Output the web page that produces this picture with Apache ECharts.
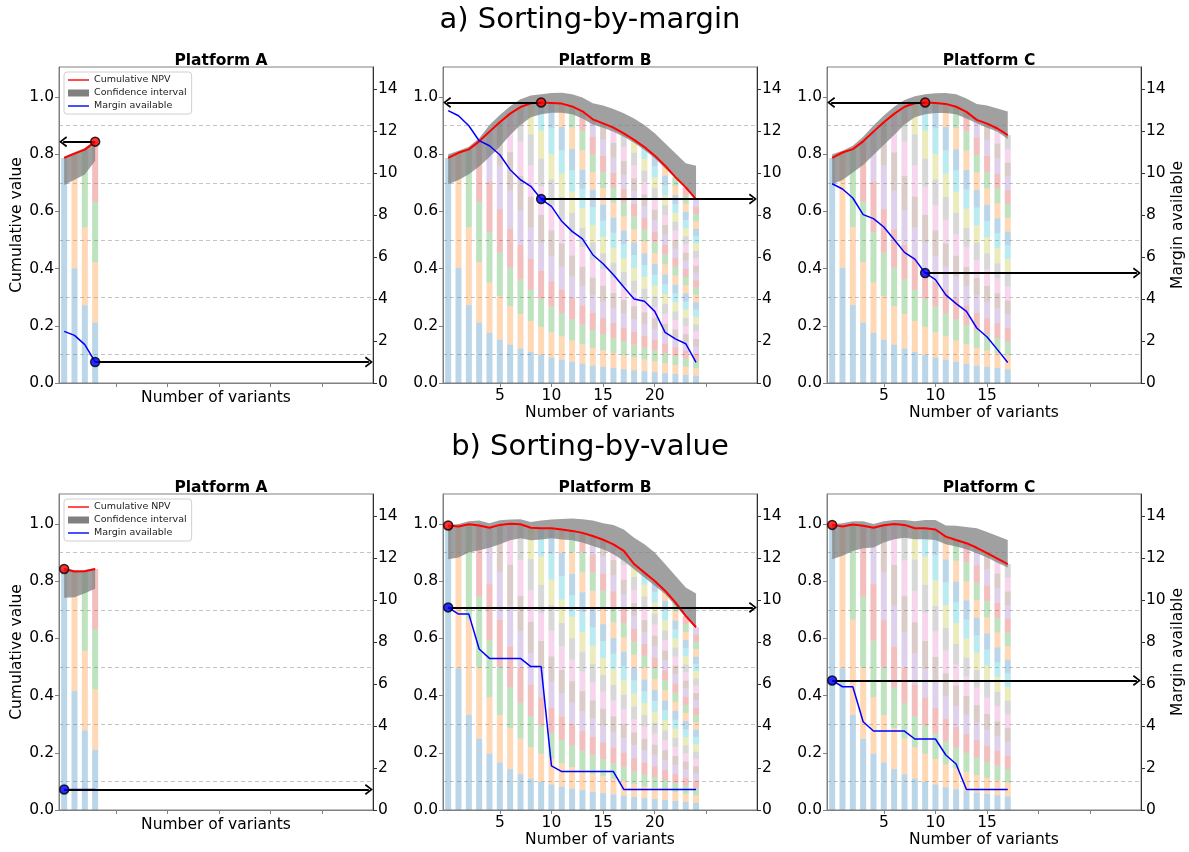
<!DOCTYPE html>
<html>
<head>
<meta charset="utf-8">
<title>Sorting-by-margin / Sorting-by-value</title>
<script src="https://cdn.jsdelivr.net/npm/echarts@6.0.0/dist/echarts.min.js"></script>
<style>
    html, body { margin: 0; padding: 0; background: #fff; }
    #chart { width: 1189px; height: 852px; }
</style>
</head>
<body>
<div id="chart"></div>
<script>
// values
const sortings = ['a) Sorting-by-margin', 'b) Sorting-by-value'];
const platforms = ['Platform A', 'Platform B', 'Platform C'];

const xTicks = [5, 10, 15, 20, 25];
const leftTicks = [0, 0.2, 0.4, 0.6, 0.8, 1.0];
const rightTicks = [0, 2, 4, 6, 8, 10, 12, 14];
const guideLevels = [0.1, 0.3, 0.5, 0.7, 0.9];

// a) sorting by margin
const npvMarginA = [0.787, 0.802, 0.816, 0.844];
const loMarginA = [0.692, 0.711, 0.729, 0.777];
const hiMarginA = [0.792, 0.807, 0.822, 0.846];
const marginMarginA = [2.46, 2.27, 1.83, 1.0];

const npvMarginB = [0.787, 0.805, 0.817, 0.845, 0.879, 0.912, 0.942, 0.965, 0.978, 0.981, 0.979, 0.977, 0.967,
    0.95, 0.922, 0.908, 0.893, 0.873, 0.85, 0.825, 0.795, 0.76, 0.72, 0.684, 0.642];
const loMarginB = [0.695, 0.71, 0.73, 0.757, 0.79, 0.826, 0.867, 0.902, 0.929, 0.94, 0.945, 0.945, 0.94,
    0.925, 0.904, 0.893, 0.879, 0.861, 0.84, 0.815, 0.786, 0.751, 0.716, 0.681, 0.64];
const hiMarginB = [0.80, 0.812, 0.826, 0.856, 0.902, 0.937, 0.968, 0.992, 1.005, 1.01, 1.014, 1.015, 1.01,
    0.998, 0.978, 0.97, 0.958, 0.943, 0.925, 0.902, 0.873, 0.838, 0.803, 0.768, 0.76];
const marginMarginB = [12.97, 12.73, 12.25, 11.54, 11.3, 10.87, 10.16, 9.68, 9.37, 8.76, 8.41, 7.7, 7.22,
    6.86, 6.11, 5.68, 5.16, 4.57, 4.0, 3.89, 3.41, 2.41, 2.1, 1.87, 0.98];

const npvMarginC = [0.787, 0.806, 0.818, 0.845, 0.879, 0.912, 0.941, 0.966, 0.978, 0.981, 0.979, 0.976, 0.966,
    0.948, 0.92, 0.907, 0.89, 0.867];
const loMarginC = [0.695, 0.71, 0.736, 0.762, 0.797, 0.832, 0.867, 0.904, 0.929, 0.94, 0.944, 0.944, 0.94,
    0.925, 0.908, 0.893, 0.879, 0.853];
const hiMarginC = [0.80, 0.812, 0.83, 0.861, 0.9, 0.935, 0.966, 0.99, 1.003, 1.01, 1.013, 1.014, 1.01,
    0.995, 0.976, 0.97, 0.96, 0.949];
const marginMarginC = [9.49, 9.24, 8.81, 8.02, 7.83, 7.43, 6.83, 6.22, 5.9, 5.24, 4.92, 4.2, 3.78,
    3.41, 2.62, 2.19, 1.59, 0.98];

// b) sorting by value
const npvValueA = [0.843, 0.834, 0.835, 0.843];
const loValueA = [0.742, 0.744, 0.758, 0.774];
const hiValueA = [0.846, 0.838, 0.839, 0.846];
const marginValueA = [0.98, 0.98, 0.98, 0.98];

const npvValueB = [0.995, 0.991, 0.999, 0.995, 0.987, 0.997, 1.001, 0.999, 0.987, 0.985, 0.985, 0.981, 0.976,
    0.969, 0.958, 0.945, 0.929, 0.906, 0.86, 0.83, 0.801, 0.767, 0.726, 0.679, 0.639];
const loValueB = [0.877, 0.883, 0.9, 0.908, 0.917, 0.929, 0.943, 0.95, 0.943, 0.946, 0.95, 0.946, 0.943,
    0.935, 0.923, 0.912, 0.894, 0.871, 0.842, 0.813, 0.784, 0.755, 0.714, 0.674, 0.635];
const hiValueB = [0.997, 1.0, 1.01, 1.012, 1.003, 1.013, 1.016, 1.017, 1.007, 1.012, 1.016, 1.018, 1.019,
    1.017, 1.012, 1.003, 0.997, 0.981, 0.952, 0.929, 0.9, 0.86, 0.819, 0.778, 0.757];
const marginValueB = [9.65, 9.33, 9.33, 7.67, 7.22, 7.22, 7.22, 7.22, 6.83, 6.83, 2.1, 1.83, 1.83,
    1.83, 1.83, 1.83, 1.83, 0.98, 0.98, 0.98, 0.98, 0.98, 0.98, 0.98, 0.98];

const npvValueC = [0.997, 0.991, 0.998, 0.994, 0.987, 0.996, 1.0, 0.997, 0.985, 0.985, 0.981, 0.956, 0.944,
    0.933, 0.917, 0.898, 0.879, 0.86];
const loValueC = [0.877, 0.889, 0.906, 0.915, 0.918, 0.935, 0.947, 0.952, 0.947, 0.947, 0.944, 0.929, 0.921,
    0.912, 0.898, 0.883, 0.865, 0.848];
const hiValueC = [1.0, 1.003, 1.01, 1.01, 1.0, 1.01, 1.014, 1.014, 1.01, 1.014, 1.014, 0.995, 0.994,
    0.99, 0.985, 0.972, 0.958, 0.944];
const marginValueC = [6.17, 5.87, 5.87, 4.2, 3.76, 3.76, 3.76, 3.76, 3.38, 3.38, 3.38, 2.62, 2.19,
    0.98, 0.98, 0.98, 0.98, 0.98];

// chosen number of variants (highlighted dot) per panel
const picksMargin = [3, 9, 9];
const picksValue = [0, 0, 0];

// ---- layout / style ----
const gridLefts = [59, 443, 827];
const gridTops = [67, 494];
const gridW = 314, gridH = 316;
const xMin = -0.5, xMax = 29.9;
const arrowInset = 0.4;
const axisGray = '#808080';
const font = 'DejaVu Sans';
const tab10 = ['31,119,180', '255,127,14', '44,160,44', '214,39,40', '148,103,189',
    '140,86,75', '227,119,194', '127,127,127', '188,189,34', '23,190,207'];
const arrowHead = 'path://M5,0 L10,7 L8.6,8 L5,2.6 L1.4,8 L0,7 Z';
const lineIcon = 'path://M0,0 L30,0 L30,2 L0,2 Z';
// rows are [value, variantIndex] so that the stack runs along y
const yFirst = { x: 1, y: 0 };

const panels = [
    { npv: npvMarginA, lo: loMarginA, hi: hiMarginA, margin: marginMarginA, pick: picksMargin[0] },
    { npv: npvMarginB, lo: loMarginB, hi: hiMarginB, margin: marginMarginB, pick: picksMargin[1] },
    { npv: npvMarginC, lo: loMarginC, hi: hiMarginC, margin: marginMarginC, pick: picksMargin[2] },
    { npv: npvValueA, lo: loValueA, hi: hiValueA, margin: marginValueA, pick: picksValue[0] },
    { npv: npvValueB, lo: loValueB, hi: hiValueB, margin: marginValueB, pick: picksValue[1] },
    { npv: npvValueC, lo: loValueC, hi: hiValueC, margin: marginValueC, pick: picksValue[2] }
];

const grid = [], xAxis = [], yAxis = [], series = [], legend = [];
const title = [
    { text: sortings[0], left: 585, top: 1, textAlign: 'center',
      textStyle: { fontSize: 29, fontWeight: 'normal', color: '#000', fontFamily: font } },
    { text: sortings[1], left: 585, top: 428, textAlign: 'center',
      textStyle: { fontSize: 29, fontWeight: 'normal', color: '#000', fontFamily: font } }
];

const arrowLine = (from, to) => ({
    silent: true, z: 5,
    symbol: ['none', arrowHead], symbolSize: [11, 8],
    lineStyle: { color: '#000', width: 2, type: 'solid' },
    label: { show: false }, emphasis: { disabled: true },
    data: [[{ coord: from }, { coord: to }]]
});

panels.forEach((p, i) => {
    const row = Math.floor(i / 3), col = i % 3;
    const n = p.npv.length;
    const left = gridLefts[col], top = gridTops[row];

    grid.push({ left: left, top: top, width: gridW, height: gridH, show: true,
        borderColor: axisGray, borderWidth: 1, backgroundColor: '#fff' });

    title.push({ text: platforms[col], left: left + gridW / 2, top: top - 19, textAlign: 'center',
        textStyle: { fontSize: 15.5, fontWeight: 'bold', color: '#000', fontFamily: font } });

    const labels = xTicks.filter(t => t <= n - 1);
    xAxis.push({
        type: 'value', gridIndex: i, min: xMin, max: xMax,
        name: 'Number of variants', nameLocation: 'middle', nameGap: labels.length ? 22 : 7,
        nameTextStyle: { fontSize: 15.5, color: '#000', fontFamily: font, verticalAlign: 'top' },
        axisLine: { onZero: false, lineStyle: { color: axisGray } },
        axisTick: { customValues: xTicks, length: 4, lineStyle: { color: axisGray } },
        axisLabel: { show: labels.length > 0, customValues: labels, fontSize: 15.5, color: '#000', margin: 5 },
        splitLine: { show: false }
    });

    yAxis.push({
        type: 'value', gridIndex: i, min: 0, max: 1.105, position: 'left',
        name: col === 0 ? 'Cumulative value' : '', nameLocation: 'middle', nameGap: 32,
        nameTextStyle: { fontSize: 15.5, color: '#000', fontFamily: font },
        axisLine: { show: true, onZero: false, lineStyle: { color: axisGray } },
        axisTick: { show: true, customValues: leftTicks, length: 4, lineStyle: { color: axisGray } },
        axisLabel: { customValues: leftTicks, formatter: v => v.toFixed(1), fontSize: 15.5, color: '#000', margin: 5 },
        splitLine: { show: false }
    });
    yAxis.push({
        type: 'value', gridIndex: i, min: 0, max: 15.05, position: 'right',
        name: col === 2 ? 'Margin available' : '', nameLocation: 'middle', nameGap: 28,
        nameTextStyle: { fontSize: 15.5, color: '#000', fontFamily: font },
        axisLine: { show: true, onZero: false, lineStyle: { color: '#333' } },
        axisTick: { show: true, customValues: rightTicks, length: 4, lineStyle: { color: '#333' } },
        axisLabel: { customValues: rightTicks, fontSize: 15.5, color: '#000', margin: 5 },
        splitLine: { show: false }
    });

    // stacked bars: each variant count split into its variants' shares
    for (let j = 0; j < n; j++) {
        series.push({
            type: 'bar', xAxisIndex: i, yAxisIndex: 2 * i, stack: 'bars' + i, encode: yFirst,
            barWidth: 6, silent: true, z: 1,
            itemStyle: { color: 'rgba(' + tab10[j % 10] + ',0.3)' },
            data: p.npv.map((v, k) => [k >= j ? v / (k + 1) : 0, k])
        });
    }

    // confidence band
    series.push({
        type: 'line', xAxisIndex: i, yAxisIndex: 2 * i, stack: 'ci' + i, encode: yFirst,
        symbol: 'none', silent: true, z: 2, lineStyle: { opacity: 0 },
        data: p.lo.map((v, k) => [v, k]),
        markLine: {
            silent: true, symbol: 'none', z: 0, label: { show: false },
            lineStyle: { color: '#c4c4c4', type: [4, 3], width: 1 },
            data: guideLevels.map(v => ({ yAxis: v }))
        }
    });
    series.push({
        name: 'Confidence interval', type: 'line', xAxisIndex: i, yAxisIndex: 2 * i, stack: 'ci' + i,
        encode: yFirst, symbol: 'none', silent: true, z: 2, color: '#808080', lineStyle: { opacity: 0 },
        areaStyle: { color: 'rgba(128,128,128,0.75)', opacity: 1 },
        data: p.hi.map((v, k) => [v - p.lo[k], k])
    });

    // cumulative NPV
    series.push({
        name: 'Cumulative NPV', type: 'line', xAxisIndex: i, yAxisIndex: 2 * i,
        symbol: 'none', silent: true, z: 4, color: '#ff0000',
        lineStyle: { color: '#ff0000', width: 2 },
        data: p.npv.map((v, k) => [k, v]),
        markLine: p.pick > 0 ? arrowLine([p.pick, p.npv[p.pick]], [xMin + arrowInset, p.npv[p.pick]]) : undefined
    });

    // margin available
    series.push({
        name: 'Margin available', type: 'line', xAxisIndex: i, yAxisIndex: 2 * i + 1,
        symbol: 'none', silent: true, z: 4, color: '#0000ff',
        lineStyle: { color: '#0000ff', width: 1.5 },
        data: p.margin.map((v, k) => [k, v]),
        markLine: arrowLine([p.pick, p.margin[p.pick]], [xMax - arrowInset, p.margin[p.pick]])
    });

    // selected points
    series.push({
        type: 'scatter', xAxisIndex: i, yAxisIndex: 2 * i, z: 6, silent: true,
        symbolSize: 9, itemStyle: { color: '#ff0000', borderColor: '#000', borderWidth: 1.5 },
        data: [[p.pick, p.npv[p.pick]]]
    });
    series.push({
        type: 'scatter', xAxisIndex: i, yAxisIndex: 2 * i + 1, z: 6, silent: true,
        symbolSize: 9, itemStyle: { color: '#0000ff', borderColor: '#000', borderWidth: 1.5 },
        data: [[p.pick, p.margin[p.pick]]]
    });

    if (col === 0) {
        legend.push({
            left: left + 5, top: top + 5, orient: 'vertical',
            itemWidth: 21, itemHeight: 7, itemGap: 3, padding: [3, 5, 3, 4],
            backgroundColor: 'rgba(255,255,255,0.8)', borderColor: '#d0d0d0', borderWidth: 1, borderRadius: 3,
            textStyle: { fontSize: 9.5, color: '#222', fontFamily: font },
            selectedMode: false,
            data: [
                { name: 'Cumulative NPV', icon: lineIcon },
                { name: 'Confidence interval', icon: 'rect' },
                { name: 'Margin available', icon: lineIcon }
            ]
        });
    }
});

const chart = echarts.init(document.getElementById('chart'));
chart.setOption({
    animation: false,
    backgroundColor: '#fff',
    textStyle: { fontFamily: font },
    title: title,
    legend: legend,
    grid: grid,
    xAxis: xAxis,
    yAxis: yAxis,
    series: series
});
</script>
</body>
</html>
